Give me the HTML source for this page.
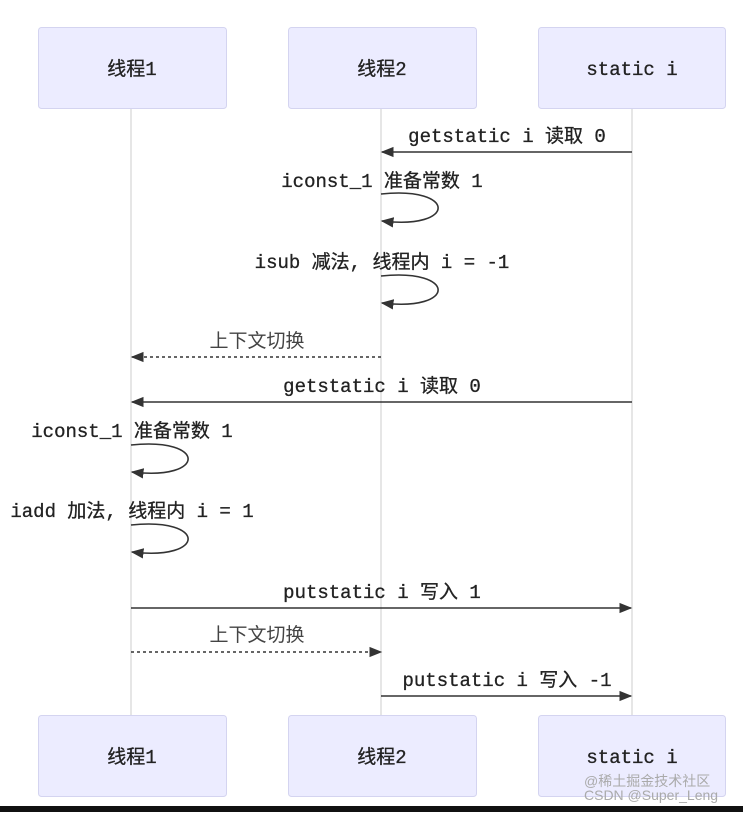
<!DOCTYPE html>
<html><head><meta charset="utf-8"><style>
body{margin:0;background:#fff;}
svg text{font-family:"Liberation Mono","Noto Sans CJK SC",monospace;font-size:19px;fill:#222;stroke:#222;stroke-width:0.3px;}
</style></head><body>
<svg width="743" height="812" viewBox="0 0 743 812" xmlns="http://www.w3.org/2000/svg">
<defs>
<marker id="a" viewBox="0 0 10 10" refX="9" refY="5" markerWidth="8" markerHeight="8" orient="auto-start-reverse"><path d="M0,1 L10,5 L0,9 z" fill="#333"/></marker>
</defs>
<g stroke="#ccc" stroke-width="1">
<line x1="131" y1="108" x2="131" y2="715"/>
<line x1="381" y1="108" x2="381" y2="715"/>
<line x1="632" y1="108" x2="632" y2="715"/>
</g>
<g fill="#ececff" stroke="#d4d4f0">
<rect x="38.5" y="27.5" width="188" height="81" rx="3"/>
<rect x="288.5" y="27.5" width="188" height="81" rx="3"/>
<rect x="538.5" y="27.5" width="187" height="81" rx="3"/>
<rect x="38.5" y="715.5" width="188" height="81" rx="3"/>
<rect x="288.5" y="715.5" width="188" height="81" rx="3"/>
<rect x="538.5" y="715.5" width="187" height="81" rx="3"/>
</g>
<g text-anchor="middle">
<text x="132" y="75">线程1</text><text x="382" y="75">线程2</text><text x="632" y="75">static i</text>
<text x="132" y="763">线程1</text><text x="382" y="763">线程2</text><text x="632" y="763">static i</text>
</g>
<g stroke="#333" stroke-width="1.6" fill="none">
<line x1="632" y1="152" x2="382" y2="152" marker-end="url(#a)"/>
<path d="M381,194 C457,186 457,230 382,221" marker-end="url(#a)"/>
<path d="M381,276 C457,268 457,312 382,303" marker-end="url(#a)"/>
<line x1="381" y1="357" x2="132" y2="357" stroke-dasharray="3,3" marker-end="url(#a)"/>
<line x1="632" y1="402" x2="132" y2="402" marker-end="url(#a)"/>
<path d="M131,445 C207,437 207,481 132,472" marker-end="url(#a)"/>
<path d="M131,525 C207,517 207,561 132,552" marker-end="url(#a)"/>
<line x1="131" y1="608" x2="631" y2="608" marker-end="url(#a)"/>
<line x1="131" y1="652" x2="381" y2="652" stroke-dasharray="3,3" marker-end="url(#a)"/>
<line x1="381" y1="696" x2="631" y2="696" marker-end="url(#a)"/>
</g>
<g text-anchor="middle">
<text x="507" y="142">getstatic i 读取 0</text>
<text x="382" y="187">iconst_1 准备常数 1</text>
<text x="382" y="268">isub 减法, 线程内 i = -1</text>
<text x="257" y="347" style="fill:#444;stroke:none">上下文切换</text>
<text x="382" y="392">getstatic i 读取 0</text>
<text x="132" y="437">iconst_1 准备常数 1</text>
<text x="132" y="517">iadd 加法, 线程内 i = 1</text>
<text x="382" y="598">putstatic i 写入 1</text>
<text x="257" y="641" style="fill:#444;stroke:none">上下文切换</text>
<text x="507" y="686">putstatic i 写入 -1</text>
</g>
<text x="584" y="786" style="font-family:'Liberation Sans','Noto Sans CJK SC',sans-serif;font-size:14px;fill:#aaa;stroke:none">@稀土掘金技术社区</text>
<text x="584" y="800" style="font-family:'Liberation Sans',sans-serif;font-size:14px;fill:#aaa;stroke:none">CSDN @Super_Leng</text>
<rect x="0" y="806" width="743" height="6" fill="#111"/>
</svg>
</body></html>
